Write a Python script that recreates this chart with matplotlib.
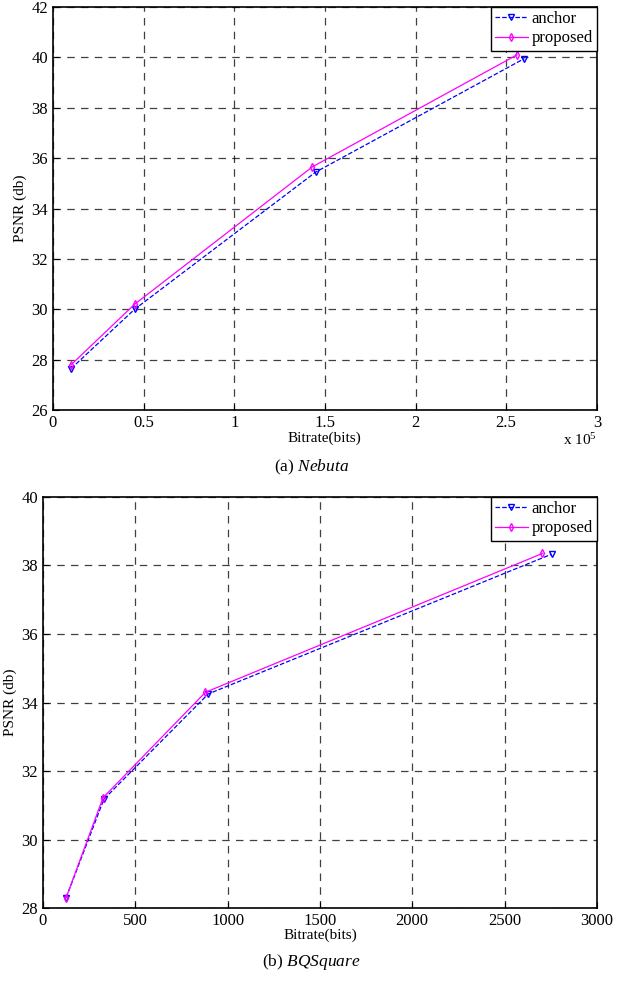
import numpy as np
import matplotlib.pyplot as plt
from matplotlib.ticker import FuncFormatter

plt.rcParams['font.family'] = ['Liberation Serif', 'DejaVu Serif']
plt.rcParams['mathtext.fontset'] = 'custom'
plt.rcParams['mathtext.rm'] = 'Liberation Serif'
plt.rcParams['mathtext.it'] = 'Liberation Serif:italic'

# (a) Nebuta
neb_anchor_x = [10000, 45000, 145000, 260000]
neb_anchor_y = [27.65, 30.0, 35.45, 39.95]
neb_prop_x = [10000, 45000, 143000, 256000]
neb_prop_y = [27.8, 30.2, 35.65, 40.1]

# (b) BQSquare
bq_anchor_x = [125, 330, 895, 2755]
bq_anchor_y = [28.3, 31.18, 34.25, 38.33]
bq_prop_x = [125, 325, 880, 2705]
bq_prop_y = [28.3, 31.22, 34.3, 38.35]

fig = plt.figure(figsize=(6.23, 9.86), dpi=100)
ax1 = fig.add_axes([0.085, 0.584, 0.873, 0.409])
ax2 = fig.add_axes([0.069, 0.079, 0.889, 0.417])


def style(ax):
    ax.grid(True, color='black', linestyle=(0, (6, 5)), linewidth=0.9, alpha=0.75)
    ax.tick_params(direction='in', labelsize=12, length=4)
    for s in ax.spines.values():
        s.set_linewidth(1.2)
    leg = ax.legend(loc='upper right', fontsize=12, fancybox=False, framealpha=1,
                    edgecolor='black', handlelength=2.0, borderpad=0.25,
                    labelspacing=0.2, handletextpad=0.2, borderaxespad=0.0)
    leg.get_frame().set_linewidth(1.0)
    ax.set_ylabel('PSNR (db)', fontsize=11, labelpad=3)
    ax.set_xlabel('Bitrate(bits)', fontsize=11, labelpad=0)


ax1.plot(neb_anchor_x, neb_anchor_y, color='blue', linestyle='--', linewidth=0.9,
         marker='v', markersize=4.5, markerfacecolor='none', label='anchor')
ax1.plot(neb_prop_x, neb_prop_y, color='magenta', linestyle='-', linewidth=0.9,
         marker='d', markersize=4, markerfacecolor='none', label='proposed')
ax1.set_xlim(0, 300000)
ax1.set_ylim(26, 42)
ax1.set_xticks(np.arange(0, 300001, 50000))
ax1.set_yticks(np.arange(26, 43, 2))
ax1.xaxis.set_major_formatter(FuncFormatter(lambda v, p: '%g' % (v / 1e5)))
style(ax1)
ax1.text(1.0, -0.055, r'x 10$^5$', transform=ax1.transAxes, ha='right', va='top', fontsize=11)

ax2.plot(bq_anchor_x, bq_anchor_y, color='blue', linestyle='--', linewidth=0.9,
         marker='v', markersize=4.5, markerfacecolor='none', label='anchor')
ax2.plot(bq_prop_x, bq_prop_y, color='magenta', linestyle='-', linewidth=0.9,
         marker='d', markersize=4, markerfacecolor='none', label='proposed')
ax2.set_xlim(0, 3000)
ax2.set_ylim(28, 40)
ax2.set_xticks(np.arange(0, 3001, 500))
ax2.set_yticks(np.arange(28, 41, 2))
style(ax2)

fig.text(0.5, 0.526, r'(a) $\mathit{Nebuta}$', ha='center', va='center', fontsize=12.5)
fig.text(0.5, 0.024, r'(b) $\mathit{BQSquare}$', ha='center', va='center', fontsize=12.5)

fig.savefig('out.png', dpi=100)
